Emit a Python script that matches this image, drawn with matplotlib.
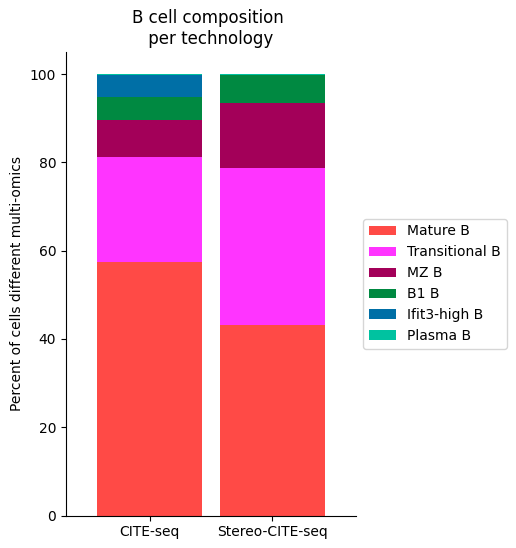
import matplotlib
matplotlib.use("Agg")
import matplotlib.pyplot as plt
import numpy as np

technologies = ["CITE-seq", "Stereo-CITE-seq"]
cell_types = ["Mature B", "Transitional B", "MZ B", "B1 B", "Ifit3-high B", "Plasma B"]
mature_b = [57.4, 43.1]
transitional_b = [23.8, 35.6]
mz_b = [8.4, 14.7]
b1_b = [5.1, 6.3]
ifit3_b = [5.0, 0.05]
plasma_b = [0.3, 0.25]
colors = ["#FF4A46", "#FF34FF", "#A30059", "#008941", "#006FA6", "#00C2A0"]

series = [mature_b, transitional_b, mz_b, b1_b, ifit3_b, plasma_b]

fig = plt.figure(figsize=(5.16, 5.48), dpi=100)
ax = fig.add_axes([66/516, 1-515.5/548, 290/516, (515.5-52)/548])
x = np.arange(len(technologies))
bottom = np.zeros(len(technologies))
for name, vals, c in zip(cell_types, series, colors):
    ax.bar(x, vals, bottom=bottom, width=0.85, color=c, label=name)
    bottom += np.array(vals)

ax.set_xticks(x)
ax.set_xticklabels(technologies)
ax.set_xlim(-0.68, 1.68)
ax.set_ylim(0, 105)
ax.set_yticks([0, 20, 40, 60, 80, 100])
ax.spines["top"].set_visible(False)
ax.spines["right"].set_visible(False)
ax.set_ylabel("Percent of cells different multi-omics")
ax.set_title("B cell composition\n per technology", x=0.489)
ax.legend(loc="center left", bbox_to_anchor=(1.0, 0.5))
fig.savefig("out.png", dpi=100)
